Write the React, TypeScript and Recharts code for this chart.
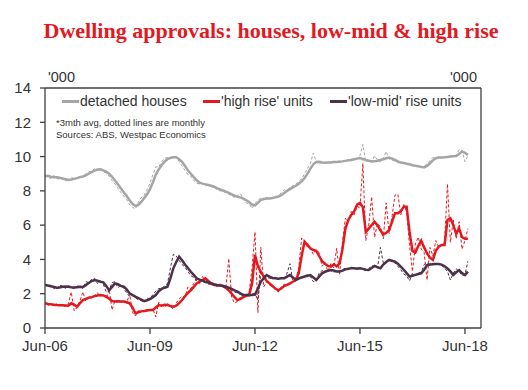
import React from "react";
import { LineChart, Line, XAxis, YAxis, ReferenceLine } from "recharts";

// monthly index 0 = Jun-06 ... 145 = Jul-18
const xTickMonths = [0, 36, 72, 108, 144];
const xTickLabels = ["Jun-06", "Jun-09", "Jun-12", "Jun-15", "Jun-18"];
const yTicks = [0, 2, 4, 6, 8, 10, 12, 14];

// detached houses, '000 (3mth avg)
const houses3m = [
  8.85, 8.88, 8.82, 8.8, 8.8, 8.76, 8.72, 8.68, 8.64, 8.66, 8.7, 8.74,
  8.8, 8.84, 8.9, 9.0, 9.1, 9.18, 9.24, 9.26, 9.2, 9.12, 9.0, 8.82,
  8.6, 8.38, 8.15, 7.92, 7.7, 7.45, 7.25, 7.12, 7.18, 7.35, 7.57, 7.8,
  8.1, 8.5, 8.95, 9.25, 9.5, 9.7, 9.85, 9.92, 9.96, 9.96, 9.85, 9.7,
  9.45, 9.2, 9.0, 8.8, 8.62, 8.48, 8.42, 8.38, 8.34, 8.3, 8.24, 8.16,
  8.09, 8.02, 7.95, 7.88, 7.8, 7.72, 7.65, 7.62, 7.55, 7.45, 7.35, 7.2,
  7.15, 7.3, 7.47, 7.52, 7.55, 7.55, 7.58, 7.62, 7.66, 7.75, 7.88, 8.0,
  8.1, 8.2, 8.3, 8.42, 8.55, 8.75, 9.0, 9.3, 9.55, 9.68, 9.7, 9.66,
  9.64, 9.65, 9.66, 9.68, 9.68, 9.7, 9.72, 9.75, 9.78, 9.8, 9.84, 9.88,
  9.92, 9.86, 9.8, 9.76, 9.72, 9.72, 9.76, 9.8, 9.84, 9.9, 9.94, 9.88,
  9.8, 9.72, 9.65, 9.62, 9.58, 9.55, 9.5, 9.46, 9.44, 9.4, 9.37, 9.45,
  9.6, 9.78, 9.9, 9.94, 9.95, 9.96, 9.98, 10.0, 10.02, 10.03, 10.15, 10.3,
  10.22, 10.1,
];

// detached houses, monthly
const housesM = [
  8.95, 8.78, 8.72, 8.9, 8.74, 8.66, 8.78, 8.6, 8.55, 8.8, 8.7, 8.76,
  8.86, 8.8, 9.02, 9.1, 9.15, 9.3, 9.2, 9.32, 9.1, 9.05, 8.85, 8.6,
  8.4, 8.15, 7.9, 7.7, 7.48, 7.2, 7.05, 6.95, 7.35, 7.6, 7.75, 8.05,
  8.45, 8.95, 9.4, 9.4, 9.7, 9.9, 9.95, 9.92, 10.0, 9.95, 9.7, 9.45,
  9.2, 8.95, 8.85, 8.6, 8.45, 8.4, 8.44, 8.3, 8.36, 8.25, 8.2, 8.05,
  8.0, 7.98, 7.9, 7.8, 7.72, 7.62, 7.7, 7.85, 7.5, 7.3, 7.25, 6.98,
  7.25, 7.45, 7.6, 7.5, 7.62, 7.52, 7.6, 7.7, 7.68, 7.9, 8.05, 8.05,
  8.2, 8.3, 8.4, 8.55, 8.7, 9.0, 9.3, 9.6, 10.2, 9.7, 9.55, 9.7,
  9.62, 9.7, 9.62, 9.72, 9.66, 9.75, 9.72, 9.8, 9.76, 9.85, 9.8, 9.9,
  10.05, 10.7, 9.7, 9.75, 9.65, 10.05, 9.8, 9.7, 9.9, 10.3, 9.85, 9.8,
  9.75, 9.65, 9.6, 9.62, 9.55, 9.5, 9.45, 9.42, 9.42, 9.35, 9.4, 9.6,
  9.75, 9.95, 9.92, 9.98, 9.92, 10.0, 9.96, 10.05, 10.0, 10.1, 10.4, 10.35,
  9.7, 10.05,
];

// 'high rise' units (3mth avg)
const highRise3m = [
  1.44, 1.4, 1.38, 1.36, 1.34, 1.33, 1.32, 1.31, 1.3, 1.44, 1.36, 1.24,
  1.45, 1.63, 1.7, 1.77, 1.8, 1.86, 1.9, 1.92, 1.9, 1.83, 1.7, 1.57,
  1.55, 1.56, 1.55, 1.54, 1.5, 1.44, 1.2, 0.86, 0.92, 0.97, 0.99, 1.02,
  1.05, 1.05, 1.2, 1.34, 1.3, 1.36, 1.34, 1.28, 1.24, 1.3, 1.45, 1.63,
  1.85, 2.05, 2.2, 2.4, 2.6, 2.7, 2.8, 2.9, 2.75, 2.6, 2.51, 2.5,
  2.51, 2.45, 2.35, 2.2, 2.0, 1.8, 1.63, 1.7, 1.8, 1.88, 1.93, 2.6,
  4.26, 3.6, 3.28, 3.0, 2.75, 2.6, 2.45, 2.3, 2.2, 2.3, 2.45, 2.51,
  2.6, 2.7, 2.8, 3.2, 4.2, 5.04, 4.85, 4.65, 4.55, 4.5, 4.2, 3.9,
  3.75, 3.62, 3.58, 3.72, 3.6, 3.77, 4.6, 5.8, 6.3, 6.6, 6.8, 7.2,
  7.3, 7.05, 5.6, 5.8, 6.0, 6.2, 6.0, 5.7, 5.45, 5.55, 5.72, 6.2,
  6.7, 6.7, 6.8, 7.08, 7.08, 5.6, 4.5, 4.4, 4.8, 5.1, 4.7, 4.36,
  4.1, 3.97, 4.5, 4.74, 4.84, 4.84, 6.3, 6.4, 6.0, 5.5, 5.8, 5.3,
  5.2, 5.2,
];

// 'high rise' units, monthly
const highRiseM = [
  1.55, 1.3, 1.45, 1.25, 1.4, 1.3, 1.35, 1.25, 1.4, 2.1, 1.0, 1.2,
  1.6, 2.1, 1.55, 1.85, 1.75, 1.9, 2.05, 1.85, 1.95, 1.7, 2.25, 1.05,
  1.6, 1.6, 1.5, 1.58, 1.45, 2.0, 0.9, 0.7, 1.0, 1.05, 0.95, 1.1,
  1.0, 1.1, 0.65, 1.5, 1.35, 1.2, 1.45, 1.25, 1.1, 1.45, 1.7, 1.85,
  1.8, 2.4, 2.3, 2.6, 2.85, 2.55, 3.0, 2.85, 2.65, 2.45, 2.6, 2.4,
  2.55, 2.4, 2.3, 4.05, 1.8, 1.45, 1.55, 1.8, 1.9, 1.85, 2.1, 3.5,
  5.6, 0.9, 4.7, 2.4, 2.7, 2.5, 2.4, 2.25, 2.1, 2.4, 2.55, 2.5,
  2.55, 2.7, 2.85, 3.5, 5.25, 5.1, 4.7, 4.6, 4.3, 4.55, 4.4, 3.6,
  3.8, 3.3, 3.75, 3.5, 4.65, 3.1, 5.0, 6.4, 6.2, 6.8, 6.6, 7.1,
  7.0, 9.6, 5.1, 6.0, 7.65, 5.3, 6.1, 5.9, 5.2, 7.3, 5.5, 6.5,
  7.75, 7.8, 6.6, 7.2, 6.8, 4.8, 3.3, 4.9, 5.3, 4.6, 4.4, 2.8,
  4.7, 4.2, 5.1, 4.7, 4.8, 5.0, 8.4, 5.0, 6.3, 5.2, 6.2, 4.6,
  5.1, 5.8,
];

// 'low-mid' rise units (3mth avg)
const lowMid3m = [
  2.51, 2.48, 2.44, 2.4, 2.35, 2.36, 2.4, 2.42, 2.41, 2.38, 2.36, 2.38,
  2.4, 2.39, 2.5, 2.62, 2.74, 2.8, 2.76, 2.7, 2.66, 2.45, 2.2, 2.4,
  2.6, 2.55, 2.46, 2.41, 2.25, 2.02, 1.92, 1.83, 1.75, 1.66, 1.57, 1.62,
  1.69, 1.8, 1.92, 2.15, 2.28, 2.35, 2.41, 2.9, 3.48, 3.85, 4.16, 3.95,
  3.7, 3.5, 3.28, 3.1, 2.9, 2.82, 2.76, 2.7, 2.65, 2.6, 2.55, 2.51,
  2.48, 2.45, 2.41, 2.35, 2.28, 2.2, 2.12, 2.02, 1.93, 1.92, 1.93, 1.92,
  1.95, 2.3, 2.7, 2.9, 3.09, 3.0, 2.92, 2.9, 2.88, 2.9, 2.9, 3.0,
  3.09, 2.95, 2.8, 2.88, 2.95, 3.0, 3.05, 3.09, 2.95, 2.8, 3.0, 3.19,
  3.28, 3.33, 3.38, 3.35, 3.3, 3.29, 3.35, 3.42, 3.46, 3.48, 3.48, 3.46,
  3.48, 3.45, 3.4, 3.38, 3.5, 3.62, 3.55, 3.48, 3.7, 3.85, 3.97, 3.92,
  3.87, 3.75, 3.58, 3.4, 3.2, 3.0, 3.05, 3.1, 3.15, 3.19, 3.4, 3.67,
  3.7, 3.72, 3.73, 3.73, 3.7, 3.6, 3.48, 3.3, 3.09, 3.25, 3.38, 3.2,
  3.09, 3.29,
];

// 'low-mid' rise units, monthly
const lowMidM = [
  2.55, 2.4, 2.5, 2.3, 2.28, 2.5, 2.45, 2.3, 2.48, 2.35, 2.3, 2.45,
  2.42, 2.3, 2.7, 2.65, 2.85, 2.9, 2.6, 2.75, 2.55, 2.1, 2.2, 2.65,
  2.7, 2.35, 2.5, 2.3, 2.05, 1.85, 1.9, 1.75, 1.65, 1.6, 1.5, 1.75,
  1.7, 1.95, 2.15, 2.3, 2.3, 2.45, 2.6, 3.5, 4.3, 4.2, 3.95, 3.7,
  3.55, 3.3, 3.05, 2.95, 2.75, 2.8, 2.7, 2.65, 2.55, 2.65, 2.5, 2.45,
  2.5, 2.4, 2.35, 2.3, 2.2, 2.1, 2.05, 1.95, 1.9, 1.95, 1.85, 2.0,
  2.0, 1.65, 3.2, 3.1, 2.95, 2.9, 2.85, 3.0, 2.8, 2.95, 2.85, 3.2,
  3.75, 2.7, 2.75, 3.0, 2.95, 3.05, 3.1, 3.0, 2.7, 2.75, 3.2, 3.35,
  3.3, 3.4, 3.35, 3.25, 3.35, 3.3, 3.4, 3.5, 3.4, 3.55, 3.45, 3.5,
  3.55, 3.4, 3.35, 3.45, 3.65, 3.55, 3.5, 4.7, 3.8, 3.9, 4.0, 3.85,
  3.8, 3.6, 3.4, 3.15, 3.05, 2.75, 3.2, 3.1, 3.2, 3.25, 3.7, 3.8,
  3.7, 3.75, 3.8, 3.7, 3.65, 3.5, 3.3, 2.8, 3.2, 3.45, 3.3, 3.05,
  3.1, 3.9,
];

const GREY = "#a5a5a5";
const RED = "#e3191f";
const PLUM = "#4c3148";
const AXIS = "#404040";
const TEXT = "#333333";

const data = houses3m.map((_, m) => ({
  m,
  houses3m: houses3m[m],
  housesM: housesM[m],
  highRise3m: highRise3m[m],
  highRiseM: highRiseM[m],
  lowMid3m: lowMid3m[m],
  lowMidM: lowMidM[m],
}));

const legendItems = [
  { label: "detached houses", color: GREY, left: 62 },
  { label: "'high rise' units", color: RED, left: 203 },
  { label: "'low-mid' rise units", color: PLUM, left: 330 },
];

const tickStyle = { fill: TEXT, fontSize: 15, fontFamily: "Liberation Sans, Arial, sans-serif" };

export default function App() {
  return (
    <div
      style={{
        position: "absolute",
        left: 0,
        top: 0,
        width: 528,
        height: 390,
        background: "#fff",
        fontFamily: "Liberation Sans, Arial, sans-serif",
      }}
    >
      <div
        style={{
          position: "absolute",
          left: 0,
          width: 542,
          top: 17,
          textAlign: "center",
          fontFamily: "Liberation Serif, Times New Roman, serif",
          fontWeight: "bold",
          fontSize: 22,
          lineHeight: "28px",
          color: RED,
        }}
      >
        Dwelling approvals: houses, low-mid &amp; high rise
      </div>
      <div style={{ position: "absolute", left: 48, top: 69, fontSize: 14.5, color: TEXT }}>'000</div>
      <div style={{ position: "absolute", left: 450, top: 69, fontSize: 14.5, color: TEXT }}>'000</div>
      <LineChart width={528} height={390} data={data} margin={{ top: 88, right: 0, bottom: 0, left: 0 }}>
        <XAxis
          dataKey="m"
          type="number"
          domain={[0, 149.5]}
          ticks={xTickMonths}
          tickFormatter={(v: number) => xTickLabels[xTickMonths.indexOf(v)]}
          height={62}
          stroke={AXIS}
          strokeWidth={1.3}
          tickSize={6}
          tickMargin={6}
          tick={tickStyle}
          allowDataOverflow
        />
        <YAxis
          yAxisId="l"
          domain={[0, 14]}
          ticks={yTicks}
          width={45}
          stroke={AXIS}
          strokeWidth={1.3}
          tickSize={5}
          tickMargin={9}
          tick={tickStyle}
          interval={0}
        />
        <YAxis
          yAxisId="r"
          orientation="right"
          domain={[0, 14]}
          ticks={yTicks}
          width={47}
          stroke={AXIS}
          strokeWidth={1.3}
          tickSize={5}
          tickMargin={10}
          tick={tickStyle}
          interval={0}
        />
        <ReferenceLine yAxisId="l" y={14} stroke={AXIS} strokeWidth={1.3} />
        <Line yAxisId="l" dataKey="housesM" stroke={GREY} strokeWidth={1} strokeDasharray="3 2" dot={false} isAnimationActive={false} />
        <Line yAxisId="l" dataKey="houses3m" stroke={GREY} strokeWidth={2.5} dot={false} isAnimationActive={false} />
        <Line yAxisId="l" dataKey="highRiseM" stroke={RED} strokeWidth={1} strokeDasharray="3 2" dot={false} isAnimationActive={false} />
        <Line yAxisId="l" dataKey="lowMidM" stroke={PLUM} strokeWidth={1} strokeDasharray="3 2" dot={false} isAnimationActive={false} />
        <Line yAxisId="l" dataKey="highRise3m" stroke={RED} strokeWidth={2.5} dot={false} isAnimationActive={false} />
        <Line yAxisId="l" dataKey="lowMid3m" stroke={PLUM} strokeWidth={2.5} dot={false} isAnimationActive={false} />
      </LineChart>
      {legendItems.map((it) => (
        <div
          key={it.label}
          style={{
            position: "absolute",
            left: it.left,
            top: 92,
            display: "flex",
            alignItems: "center",
            whiteSpace: "nowrap",
            fontSize: 14,
            lineHeight: "18px",
            color: TEXT,
          }}
        >
          <span style={{ display: "inline-block", width: 17, height: 3, background: it.color, marginRight: 1 }} />
          {it.label}
        </div>
      ))}
      <div
        style={{
          position: "absolute",
          left: 56,
          top: 117,
          fontSize: 9.5,
          lineHeight: "11.5px",
          color: TEXT,
        }}
      >
        *3mth avg, dotted lines are monthly
        <br />
        Sources: ABS, Westpac Economics
      </div>
    </div>
  );
}
